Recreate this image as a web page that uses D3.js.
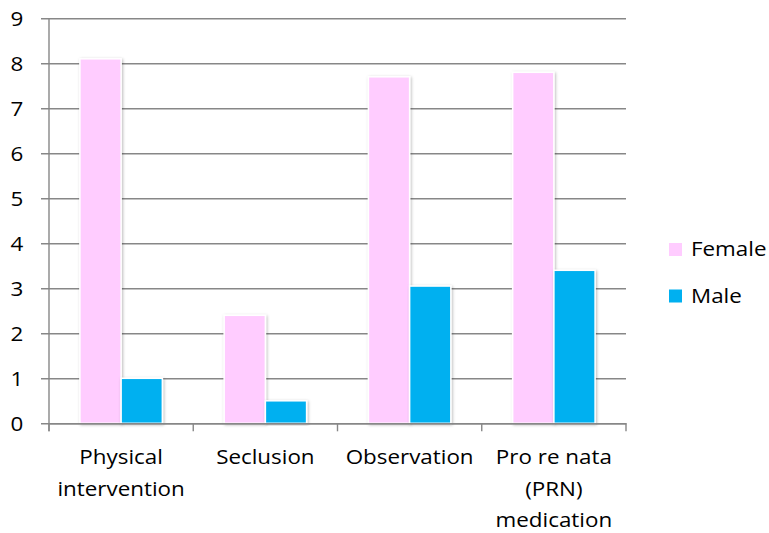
<!DOCTYPE html>
<html>
<head>
<meta charset="utf-8">
<script src="https://cdn.jsdelivr.net/npm/d3@7"></script>
<style>
  html, body { margin: 0; padding: 0; background: #fff; }
  svg { display: block; }
  text { font-family: "Open Sans", sans-serif; fill: #000; }
</style>
</head>
<body>
<svg id="chart" width="769" height="533"></svg>
<script>
// Restrictive practices by gender
const categories = ["Physical intervention", "Seclusion", "Observation", "Pro re nata (PRN) medication"];
const seriesNames = ["Female", "Male"];
const femaleValues = [8.1, 2.4, 7.7, 7.8];
const maleValues = [1.0, 0.5, 3.05, 3.4];
const yTicks = [0, 1, 2, 3, 4, 5, 6, 7, 8, 9];
const seriesColors = ["#FFCCFF", "#00B0F0"];

const W = 769, H = 533;
const plot = { left: 49, right: 626, top: 18.3, bottom: 423.3 };
const FONT = 20;        // label font size
const STRETCH = 1.12;   // horizontal text widening

const svg = d3.select("#chart");

const defs = svg.append("defs");
const shadow = defs.append("filter").attr("id", "barShadow")
  .attr("x", "-20%").attr("y", "-10%").attr("width", "140%").attr("height", "120%");
shadow.append("feDropShadow").attr("dx", 1).attr("dy", 1)
  .attr("stdDeviation", 1.6).attr("flood-color", "#000").attr("flood-opacity", 0.28);

const x = d3.scaleBand().domain(categories).range([plot.left, plot.right]).paddingInner(0).paddingOuter(0);
const xSub = d3.scaleBand().domain(seriesNames).range([0, x.bandwidth()]).paddingInner(0).paddingOuter(0.75);
const y = d3.scaleLinear().domain([0, 9]).range([plot.bottom, plot.top]);
const color = d3.scaleOrdinal().domain(seriesNames).range(seriesColors);

// horizontal gridlines with left tick stubs
const yAxis = d3.axisLeft(y).tickValues(yTicks)
  .tickSize(-(plot.right - plot.left)).tickSizeOuter(0).tickPadding(0)
  .tickFormat(d3.format("d"));
const gy = svg.append("g").attr("transform", `translate(${plot.left},0)`).call(yAxis);
gy.select(".domain").remove();
gy.selectAll(".tick line").attr("x1", -8).attr("stroke", "#878787").attr("stroke-width", 1.4);
gy.selectAll(".tick text")
  .attr("font-size", FONT).attr("text-anchor", "middle").attr("dy", "0.35em")
  .attr("x", 0)
  .attr("transform", `translate(-32,0) scale(${STRETCH},1)`);

// bars
const rows = categories.map((c, i) => ({ category: c, values: [femaleValues[i], maleValues[i]] }));
const groups = svg.append("g").selectAll("g").data(rows).join("g")
  .attr("transform", d => `translate(${x(d.category)},0)`);
groups.selectAll("rect")
  .data(d => d.values.map((v, j) => ({ key: seriesNames[j], value: v })))
  .join("rect")
  .attr("x", d => xSub(d.key))
  .attr("width", xSub.bandwidth())
  .attr("y", d => y(d.value))
  .attr("height", d => y(0) - y(d.value))
  .attr("fill", d => color(d.key))
  .attr("stroke", "#fff").attr("stroke-width", 1.5)
  .attr("filter", "url(#barShadow)");

// vertical axis line
svg.append("line")
  .attr("x1", plot.left).attr("x2", plot.left)
  .attr("y1", plot.top).attr("y2", plot.bottom + 8)
  .attr("stroke", "#878787").attr("stroke-width", 1.4);

// category axis
const xAxis = d3.axisBottom(x).tickSize(0).tickFormat("");
const gx = svg.append("g").attr("transform", `translate(0,${plot.bottom})`).call(xAxis);
gx.select(".domain").attr("stroke", "#878787").attr("stroke-width", 1.4);
gx.selectAll(".tick").remove();
const boundaries = categories.map(c => x(c)).concat([x(categories[categories.length - 1]) + x.bandwidth()]);
gx.selectAll("line.sep").data(boundaries).join("line").attr("class", "sep")
  .attr("x1", d => d).attr("x2", d => d).attr("y1", 0).attr("y2", 8)
  .attr("stroke", "#878787").attr("stroke-width", 1.4);

// wrapped category labels
const measure = svg.append("text").attr("font-size", FONT).attr("visibility", "hidden");
function textWidth(s) { measure.text(s); return measure.node().getComputedTextLength() * STRETCH; }
function wrap(label, maxW) {
  const words = label.split(" ");
  const lines = [];
  let line = "";
  words.forEach(w => {
    const trial = line ? line + " " + w : w;
    if (line && textWidth(trial) > maxW) { lines.push(line); line = w; }
    else line = trial;
  });
  if (line) lines.push(line);
  return lines;
}
const lineGap = 31.7;
const labels = svg.append("g").selectAll("g").data(categories).join("g")
  .attr("transform", d => `translate(${x(d) + x.bandwidth() / 2},464)`);
labels.each(function (d) {
  const lines = wrap(d, x.bandwidth() - 4);
  d3.select(this).selectAll("text").data(lines).join("text")
    .attr("font-size", FONT).attr("text-anchor", "middle")
    .attr("transform", (l, i) => `translate(0,${i * lineGap}) scale(${STRETCH},1)`)
    .text(l => l);
});
measure.remove();

// legend
const legend = svg.append("g").selectAll("g").data(seriesNames).join("g")
  .attr("transform", (d, i) => `translate(669,${243 + i * 46.5})`);
legend.append("rect").attr("width", 13).attr("height", 13).attr("fill", d => color(d));
legend.append("text")
  .attr("font-size", FONT)
  .attr("transform", `translate(22,13) scale(${STRETCH},1)`)
  .text(d => d);
</script>
</body>
</html>
